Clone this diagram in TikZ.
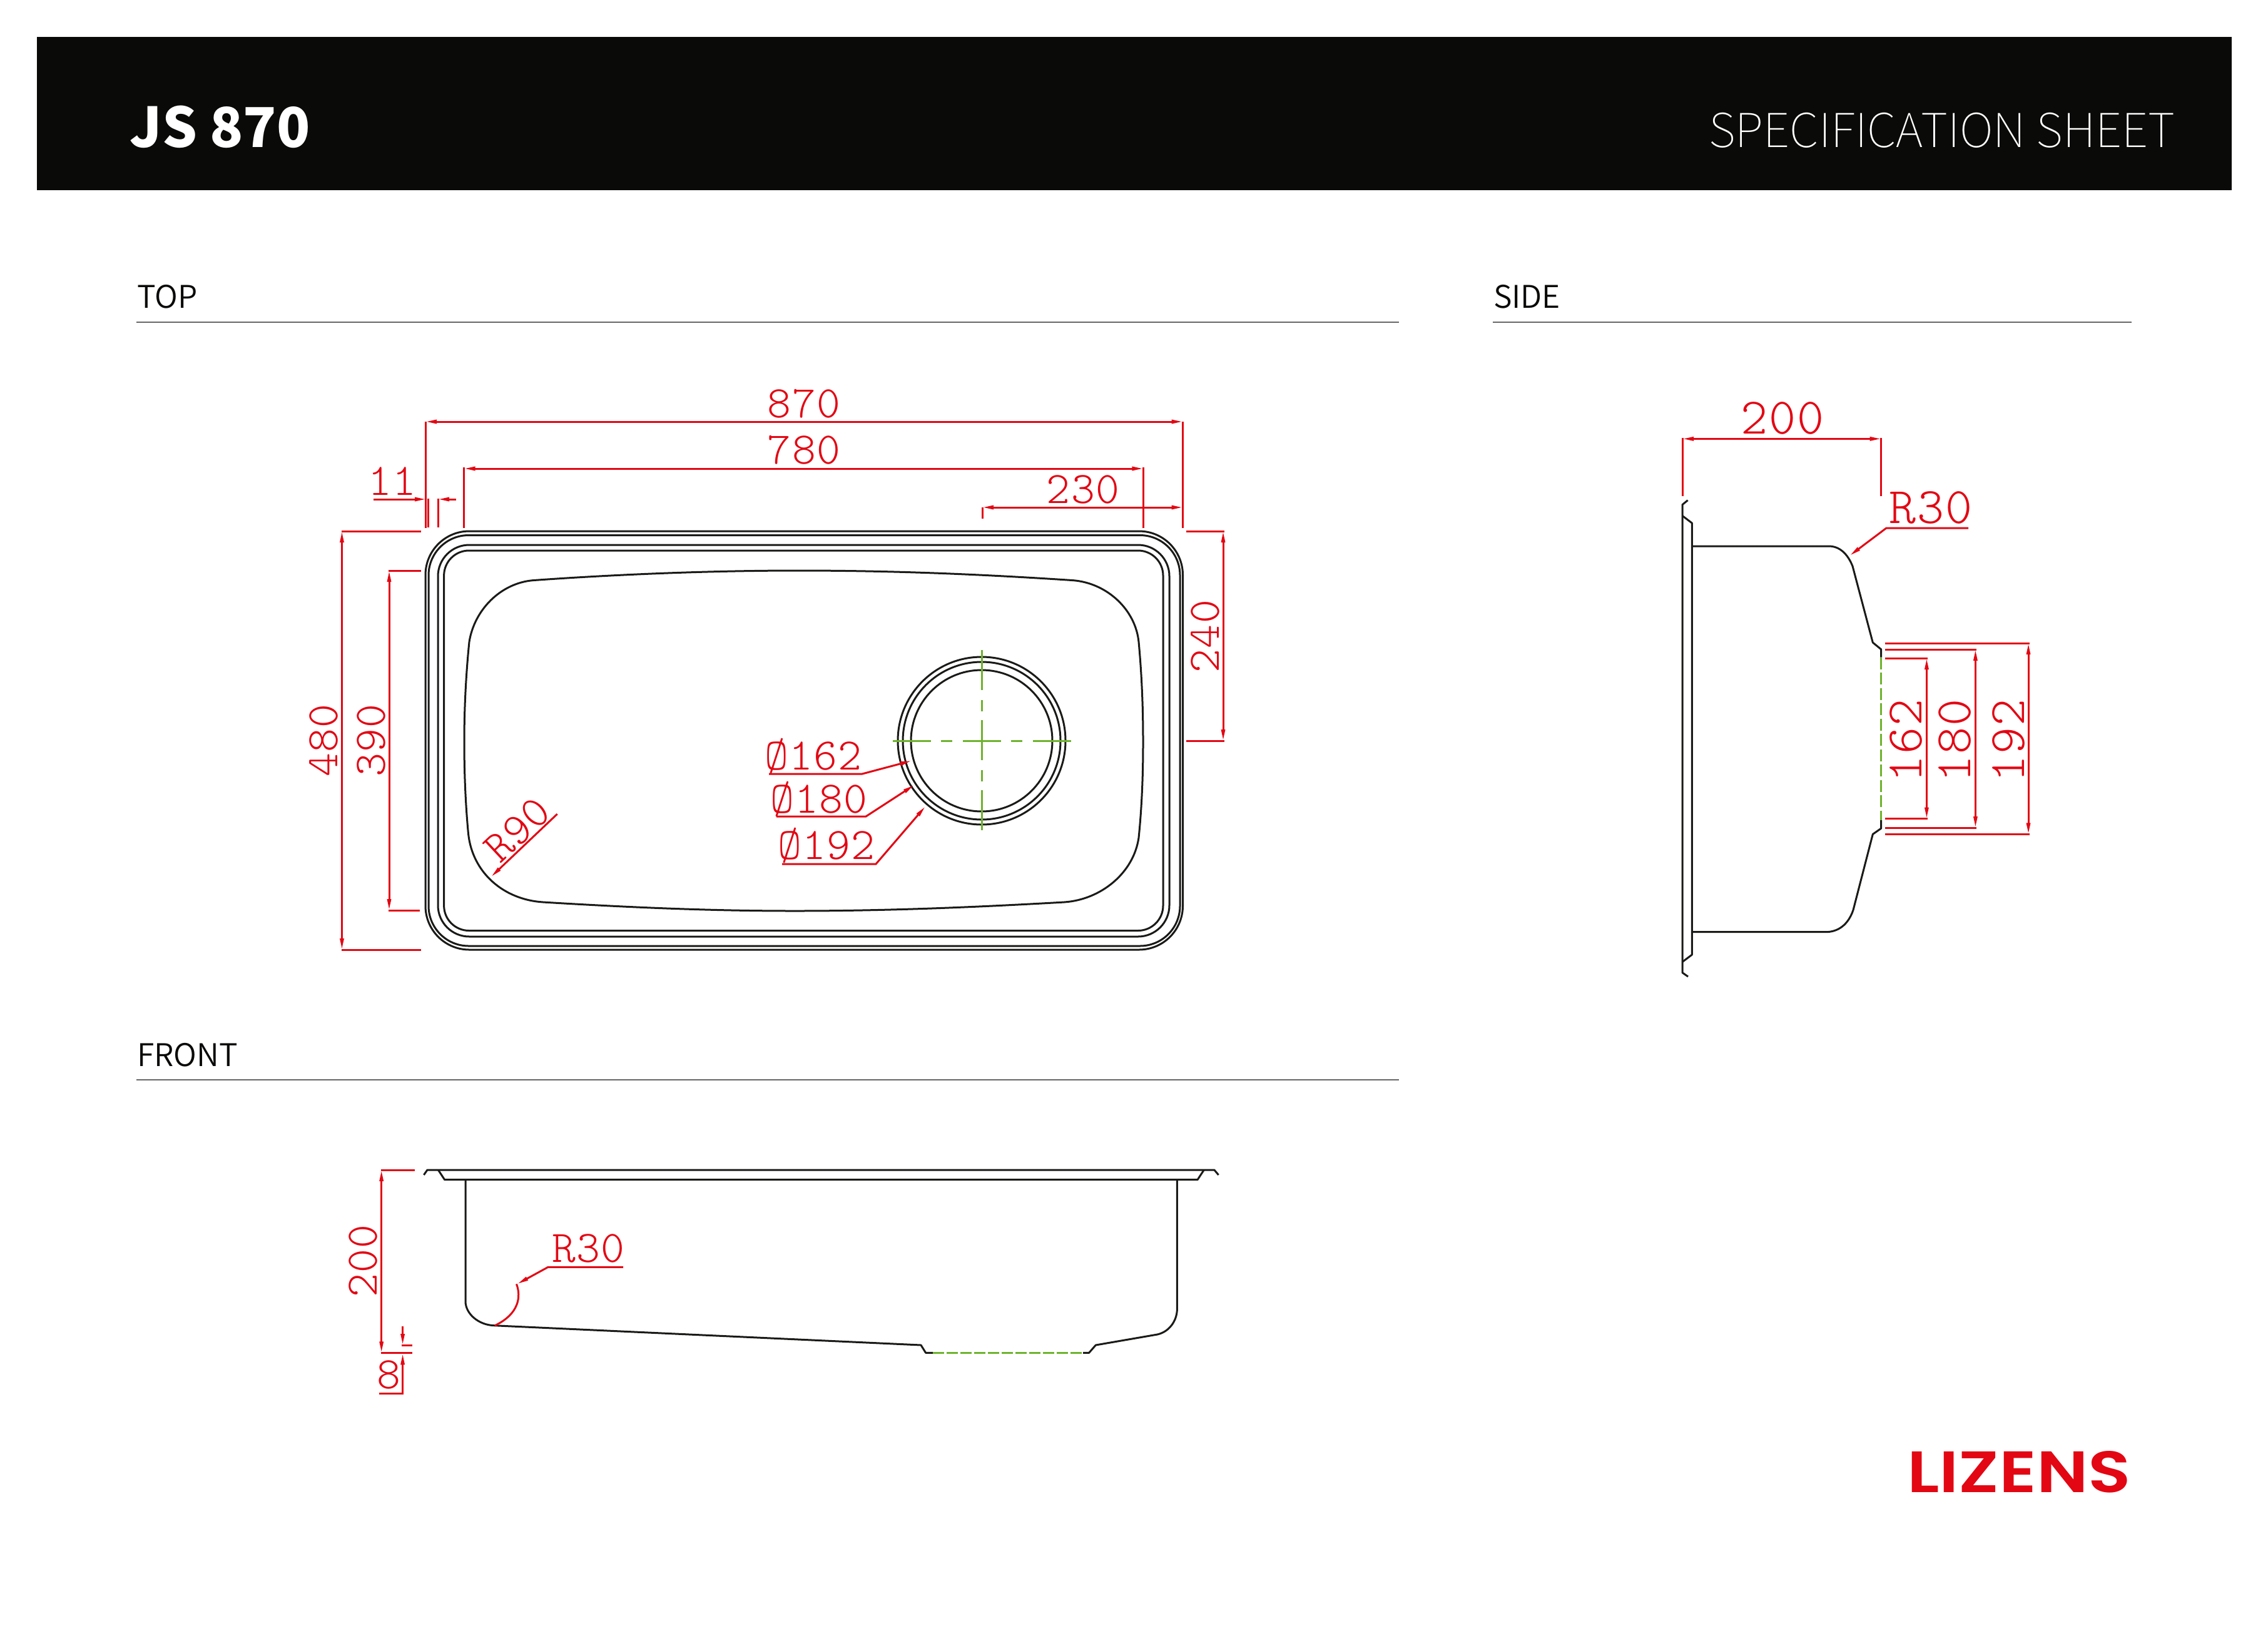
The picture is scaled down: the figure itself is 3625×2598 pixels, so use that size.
\documentclass[tikz,border=0pt]{standalone}
\usepackage{fontspec}
\usepackage{graphicx}
\usetikzlibrary{arrows.meta}
\setmainfont{Noto Sans CJK KR}
\newfontfamily\thinfont{Noto Sans CJK KR Thin}
\newfontfamily\regfont{Noto Sans CJK KR DemiLight}
\newfontfamily\cadfont[LetterSpace=2]{Latin Modern Mono Light}
\newfontfamily\logofont{Poppins SemiBold}
\definecolor{hdr}{HTML}{0A0A08}
\definecolor{ink}{HTML}{1A1A18}
\definecolor{cadred}{HTML}{E30613}
\definecolor{cadgreen}{HTML}{6DB32B}
\definecolor{rulegrey}{HTML}{666666}
\tikzset{
  body/.style={draw=ink,line width=0.3mm,line join=round},
  dimline/.style={draw=cadred,line width=0.3mm},
  dimarrow/.style={dimline,{Stealth[length=1.8mm,width=0.6mm,inset=0pt]}-{Stealth[length=1.8mm,width=0.6mm,inset=0pt]}},
  leader/.style={dimline,{Stealth[length=1.8mm,width=0.6mm,inset=0pt]}-},
  tipend/.style={dimline,-{Stealth[length=1.8mm,width=0.6mm,inset=0pt]}},
  centre/.style={draw=cadgreen,line width=0.3mm},
  cadtext/.style={text=cadred,inner sep=0pt,outer sep=0pt,font=\cadfont\fontsize{20.5pt}{20.5pt}\selectfont},
  cadbig/.style={text=cadred,inner sep=0pt,outer sep=0pt,font=\cadfont\fontsize{23.3pt}{23.3pt}\selectfont},
  section/.style={anchor=base west,inner sep=0pt,outer sep=0pt,text=hdr,font=\regfont\fontsize{14.2pt}{14.2pt}\selectfont},
  secrule/.style={draw=rulegrey,line width=0.15mm},
}
\begin{document}
\begin{tikzpicture}[x=0.1mm,y=-0.1mm]
\useasboundingbox (0,0) rectangle (3625,2598);
% header
\fill[hdr] (59,59) rectangle (3567,304);
\node[anchor=base west,inner sep=0pt,text=white,font=\bfseries\fontsize{25pt}{25pt}\selectfont] (title) at (207,235) {JS 870};
\node[anchor=base east,inner sep=0pt,text=white,font=\thinfont\fontsize{21.3pt}{21.3pt}\selectfont] (subtitle) at (3477,235) {SPECIFICATION SHEET};
% section labels
\node[section] (labtop) at (219,492) {TOP};
\draw[secrule] (218,515) -- (2236,515);
\node[section] (labside) at (2387,492) {SIDE};
\draw[secrule] (2386,515) -- (3407,515);
\node[section] (labfront) at (219,1704) {FRONT};
\draw[secrule] (218,1726) -- (2236,1726);

% ---- TOP view
\draw[body,rounded corners=7mm] (680,849) rectangle (1890.5,1518);
\draw[body,rounded corners=6.4mm] (685,855.5) rectangle (1886,1512);
\draw[body,rounded corners=5mm] (700,871) rectangle (1869,1497);
\draw[body,rounded corners=4mm] (709.6,880) rectangle (1859,1487.5);
\draw[body] (852,927.6) .. controls (1000,917) and (1150,912) .. (1275,912)
  .. controls (1430,912) and (1570,918) .. (1715,927.6)
  .. controls (1770,932) and (1815,975) .. (1820,1026)
  .. controls (1825,1080) and (1827,1130) .. (1827,1186)
  .. controls (1827,1240) and (1825,1290) .. (1820,1339)
  .. controls (1812,1395) and (1760,1438) .. (1701,1442)
  .. controls (1560,1450) and (1420,1456) .. (1270,1456)
  .. controls (1130,1456) and (1000,1450) .. (868,1442)
  .. controls (805,1438) and (755,1395) .. (748.5,1332.5)
  .. controls (744,1285) and (742,1235) .. (742,1186)
  .. controls (742,1130) and (745,1075) .. (750,1026)
  .. controls (758,975) and (800,932) .. cycle;
\draw[body] (1569,1184) circle[radius=134];
\draw[body] (1569,1184) circle[radius=126];
\draw[body] (1569,1184) circle[radius=113];
\draw[centre,dash pattern=on 6.1mm off 1.6mm on 1.8mm off 1.7mm] (1427,1184) -- (1713,1184);
\draw[centre,dash pattern=on 6.4mm off 1.6mm on 1.8mm off 1.4mm] (1569,1039) -- (1569,1329);

% 870
\draw[dimline] (680,674) -- (680,843.5);
\draw[dimline] (1890.5,674) -- (1890.5,843.5);
\draw[dimarrow] (680,674) -- (1890.5,674);
\node[cadtext] (t870) at (1285,645) {870};
% 780
\draw[dimline] (741.5,747) -- (741.5,844);
\draw[dimline] (1827.4,747) -- (1827.4,844);
\draw[dimarrow] (741.5,749) -- (1827.4,749);
\node[cadtext] (t780) at (1285,719) {780};
% 11
\draw[dimline] (684,797) -- (684,843);
\draw[dimline] (700,797) -- (700,843);
\draw[tipend] (597,798) -- (681,798);
\draw[tipend] (729,798) -- (700,798);
\node[cadtext] (t11) at (627,769.5) {11};
% 230
\draw[dimline] (1570,811) -- (1570,829);
\draw[dimarrow] (1570,811) -- (1890.5,811);
\node[cadtext] (t230) at (1731,782) {230};
% 240
\draw[dimline] (1896,849) -- (1956.5,849);
\draw[dimline] (1896,1184) -- (1956.5,1184);
\draw[dimarrow] (1955,849) -- (1955,1184);
\node[cadtext,rotate=90] (t240) at (1926.5,1017) {240};
% 480
\draw[dimline] (546,849) -- (673,849);
\draw[dimline] (546,1518) -- (673,1518);
\draw[dimarrow] (546.5,849) -- (546.5,1518);
\node[cadtext,rotate=90] (t480) at (517.5,1183.5) {480};
% 390
\draw[dimline] (621,912) -- (673,912);
\draw[dimline] (621,1455) -- (671,1455);
\draw[dimarrow] (622,912) -- (622,1455);
\node[cadtext,rotate=90] (t390) at (593,1183.5) {390};
% R90
\draw[leader] (785,1401.4) -- (890.7,1301);
\node[cadtext,rotate=43] (tr90) at (827,1326) {R90};
% diameters
\node[cadtext] (d162) at (1300,1208) {Ø162};
\draw[leader] (1457,1216) -- (1378,1237) -- (1229,1237);
\node[cadtext] (d180) at (1309,1277) {Ø180};
\draw[leader] (1461,1255) -- (1384,1305) -- (1241,1305);
\node[cadtext] (d192) at (1321,1351.5) {Ø192};
\draw[leader] (1479,1289) -- (1400,1381) -- (1250,1381);

% ---- SIDE view
\draw[body] (2697.6,799.6) -- (2689,806.6) -- (2689,1554.7) -- (2698,1561);
\draw[body] (2689,824.5) -- (2704.3,836) -- (2704.3,1526) -- (2689,1537.5);
\draw[body] (2704.3,873) -- (2923,873) .. controls (2940,873) and (2953,885) .. (2961,905)
  -- (2993.3,1027) -- (3006.7,1038) -- (3006.7,1050.7);
\draw[centre,dash pattern=on 1.9mm off 0.55mm] (3006.7,1050.7) -- (3006.7,1311);
\draw[body] (3006.7,1311) -- (3006.7,1324) -- (2993.3,1333.4) -- (2962,1454.6)
  .. controls (2954,1478) and (2938,1489.7) .. (2918,1489.7) -- (2704.3,1489.7);
% 200
\draw[dimline] (2689,700) -- (2689,793);
\draw[dimline] (3006.7,700) -- (3006.7,793);
\draw[dimarrow] (2689,701.4) -- (3006.7,701.4);
\node[cadbig] (s200) at (2849,668) {200};
% R30
\node[cadbig] (sr30) at (3086,811) {R30};
\draw[leader] (2956.5,888) -- (3015,844) -- (3146,844);
% 162 180 192
\draw[dimline] (3013,1052) -- (3081,1052);
\draw[dimline] (3013,1308.5) -- (3081,1308.5);
\draw[dimarrow] (3079.4,1052) -- (3079.4,1308.5);
\node[cadbig,rotate=90] (s162) at (3046,1184) {162};
\draw[dimline] (3013,1038) -- (3159,1038);
\draw[dimline] (3013,1323) -- (3159,1323);
\draw[dimarrow] (3157.4,1038) -- (3157.4,1323);
\node[cadbig,rotate=90] (s180) at (3124.5,1184) {180};
\draw[dimline] (3013,1028) -- (3243.5,1028);
\draw[dimline] (3013,1333.4) -- (3243.5,1333.4);
\draw[dimarrow] (3242,1028) -- (3242,1333.4);
\node[cadbig,rotate=90] (s192) at (3210,1184) {192};

% ---- FRONT view
\draw[body] (677.4,1878) -- (683,1870) -- (1940.8,1870) -- (1947.6,1878);
\draw[body] (700.4,1870) -- (710.7,1885.7) -- (1914,1885.7) -- (1924.3,1870);
\draw[body] (744,1885.7) -- (744,2080) .. controls (744,2100) and (765,2118) .. (790,2118.7)
  -- (1472,2150) -- (1479.6,2162.3) -- (1491,2162.3);
\draw[centre,dash pattern=on 1.8mm off 0.4mm] (1491,2162.3) -- (1731,2162.3);
\draw[body] (1731,2162.3) -- (1740.6,2162.3) -- (1751.3,2150) -- (1849.7,2133)
  .. controls (1868,2129) and (1881.4,2112) .. (1881.4,2091.7) -- (1881.4,1885.7);
% 200
\draw[dimline] (608.6,1870) -- (662.5,1870);
\draw[dimline] (608.6,2162.3) -- (658.5,2162.3);
\draw[dimarrow] (609.7,1870) -- (609.7,2162.3);
\node[cadtext,rotate=90] (f200) at (580,2015.7) {200};
% 8
\node[cadtext] (f8) at (621,2197) {8};
\draw[tipend] (643.6,2120) -- (643.6,2150);
\draw[dimline] (642,2150.3) -- (658.5,2150.3);
\draw[tipend] (605.7,2227.3) -- (643.6,2227.3) -- (643.6,2163.3);
% R30
\node[cadtext] (fr30) at (940.6,1995.7) {R30};
\draw[leader] (826.7,2052.3) -- (876,2025.3) -- (996,2025.3);
\draw[dimline] (825.5,2052.3) .. controls (833,2072) and (830,2100) .. (791,2118.7);

% logo
\node[anchor=south west,inner sep=0pt,outer sep=0pt,text=cadred] (logo) at (3048,2386)
  {\resizebox{35.8mm}{6.6mm}{\logofont LIZENS}};
\end{tikzpicture}
\end{document}
